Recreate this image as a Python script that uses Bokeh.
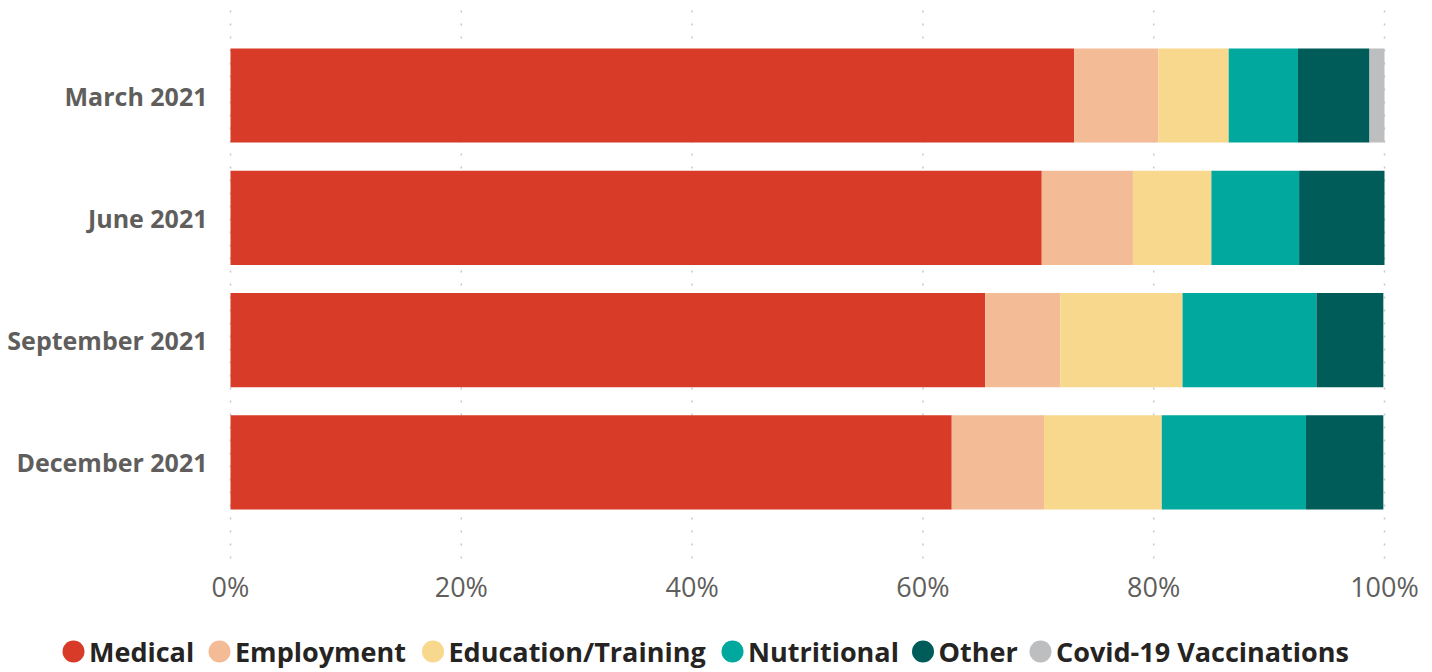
from bokeh.plotting import figure
from bokeh.models import Range1d, ColumnDataSource
from bokeh.core.properties import value
from bokeh.embed import file_html
from bokeh.resources import INLINE

# ---- data (percent of total) ----
months = ["March 2021", "June 2021", "September 2021", "December 2021"]
categories = ["Medical", "Employment", "Education/Training", "Nutritional", "Other", "Covid-19 Vaccinations"]
medical = [73.1, 70.3, 65.4, 62.5]
employment = [7.3, 7.9, 6.5, 8.0]
education = [6.1, 6.8, 10.6, 10.2]
nutritional = [6.0, 7.6, 11.6, 12.5]
other = [6.2, 7.4, 5.8, 6.7]
covid = [1.3, 0.0, 0.0, 0.0]
colors = ["#D83B27", "#F4BC96", "#F8D88C", "#01A89D", "#005C59", "#BDBEC0"]
x_ticks = [0, 20, 40, 60, 80, 100]

# ---- layout constants (pixels in the 1432x672 canvas) ----
W, H = 1432, 672
PX_LEFT, PX_RIGHT = 230, 1384          # where 0% and 100% fall
BAND = 122.3                           # pixels per category band
PX_FIRST = 95                          # centre of first (top) bar
GRID_TOP, GRID_BOTTOM = 10, 563
TICK_Y = 586
YLABEL_RIGHT = 207
LEGEND_Y = 651
LEGEND_CX = [73, 219, 432.5, 732, 922.5, 1040]   # legend marker centres

sx = (PX_RIGHT - PX_LEFT) / 100.0
n = len(months)
ypos = [n - 1 - i for i in range(n)]  # first month on top
y_top = (n - 1) + PX_FIRST / BAND


def xd(px):
    return (px - PX_LEFT) / sx


def yd(py):
    return y_top - py / BAND


series = [medical, employment, education, nutritional, other, covid]
keys = ["s%d" % i for i in range(len(series))]
data = {"y": ypos}
for k, s in zip(keys, series):
    data[k] = s
source = ColumnDataSource(data)

p = figure(width=W, height=H, output_backend="svg", toolbar_location=None,
           x_range=Range1d(xd(0), xd(W)), y_range=Range1d(yd(H), yd(0)),
           x_axis_type=None, y_axis_type=None,
           min_border_left=0, min_border_right=0, min_border_top=0, min_border_bottom=0)
p.outline_line_color = None
p.xgrid.visible = False
p.ygrid.visible = False
p.background_fill_color = "white"

# dotted vertical gridlines at the x ticks
p.segment(x0=x_ticks, x1=x_ticks, y0=[yd(GRID_TOP)] * len(x_ticks), y1=[yd(GRID_BOTTOM)] * len(x_ticks),
          line_color="#C8C8C8", line_width=1.5, line_dash="2 11")

# stacked bars
p.hbar_stack(keys, y="y", height=0.77, color=colors, line_color=None, source=source)

# x tick labels
p.text(x=x_ticks, y=[yd(TICK_Y)] * len(x_ticks), text=["%d%%" % t for t in x_ticks],
       text_align="center", text_baseline="middle", text_font=value("Open Sans"),
       text_font_size="27px", text_color="#605E5C")

# category labels
p.text(x=[xd(YLABEL_RIGHT)] * n, y=ypos, text=months,
       text_align="right", text_baseline="middle", text_font=value("Open Sans"),
       text_font_style="bold", text_font_size="25px", text_color="#605E5C")

# legend
lx = [xd(c) for c in LEGEND_CX]
ly = [yd(LEGEND_Y)] * len(categories)
p.scatter(x=lx, y=ly, marker="circle", size=22, color=colors, line_color=None)
p.text(x=lx, y=ly, text=categories, x_offset=15.5,
       text_align="left", text_baseline="middle", text_font=value("Open Sans"),
       text_font_style="bold", text_font_size="27px", text_color="#252423")

open("out.html", "w").write(file_html(p, INLINE))
